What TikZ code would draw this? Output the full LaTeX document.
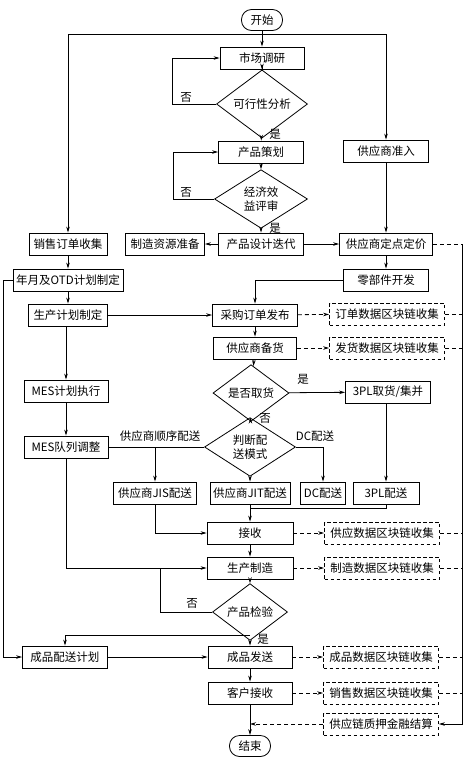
\documentclass[tikz,border=0pt]{standalone}
\usepackage{fontspec}
\setmainfont{Noto Sans CJK SC}
\usepackage{tikz}
\usetikzlibrary{arrows.meta,shapes.geometric}

\begin{document}
\begin{tikzpicture}[x=1pt,y=-1pt,line width=0.8pt,
  font=\fontsize{11.5}{13.5}\selectfont,
  box/.style={draw,minimum height=22pt,minimum width=85pt,inner xsep=3pt,inner ysep=0pt},
  chain/.style={box,dash pattern=on 3.5pt off 2.5pt,minimum width=115pt},
  term/.style={draw,rounded corners=10pt,minimum height=21pt,minimum width=41pt,inner sep=0pt},
  ask/.style={draw,diamond,inner sep=0pt,align=center},
  arr/.style={-{Stealth[length=6pt,width=3.5pt]}},
  dline/.style={dash pattern=on 4pt off 3pt}]
  \useasboundingbox (0,0) rectangle (473,761);

  % top part
  \node[term] (start) at (262,20) {开始};
  \node[box,minimum width=84pt] (mr) at (262,58) {市场调研};
  \node[ask,minimum width=91pt,minimum height=45pt] (kx) at (262,104) {可行性分析};
  \node[box] (cpch) at (261,152) {产品策划};
  \node[ask,minimum width=93pt,minimum height=45pt] (jj) at (261,199) {经济效\\益评审};
  \node[box] (sjdd) at (261,244) {产品设计迭代};
  \node[box,minimum width=79pt] (zzzy) at (165,244) {制造资源准备};
  \node[box] (gyszr) at (386,151) {供应商准入};
  \node[box,minimum width=93pt] (gysdd) at (386,244) {供应商定点定价};
  \node[box] (ljkf) at (386,280) {零部件开发};

  % left column
  \node[box,minimum width=78pt] (xsdd) at (68,244) {销售订单收集};
  \node[box,minimum width=110pt] (nyotd) at (68,280) {年月及OTD计划制定};
  \node[box,minimum width=79pt] (scjh) at (68,315) {生产计划制定};
  \node[box,minimum width=84pt] (mesjh) at (66,391) {MES计划执行};
  \node[box,minimum width=84pt] (mesdz) at (66,447) {MES队列调整};
  \node[box] (cppsjh) at (65,657) {成品配送计划};

  % purchasing and delivery
  \node[box] (cgdd) at (255,315) {采购订单发布};
  \node[box,minimum width=83pt] (gysbh) at (255,348) {供应商备货};
  \node[chain] (ddbc) at (387,314) {订单数据区块链收集};
  \node[chain] (fhbc) at (387,348) {发货数据区块链收集};
  \node[ask,minimum width=76pt,minimum height=40pt] (sfqh) at (251,393) {是否取货};
  \node[box] (qh3pl) at (388,392) {3PL取货/集并};
  \node[ask,minimum width=91pt,minimum height=46pt] (pdms) at (250,447) {判断配\\送模式};
  \node[box,minimum width=83pt] (jis) at (155,493) {供应商JIS配送};
  \node[box,minimum width=79pt] (jit) at (250,493) {供应商JIT配送};
  \node[box,minimum width=43pt] (dc) at (323,493) {DC配送};
  \node[box,minimum width=66pt] (ps3pl) at (386,493) {3PL配送};

  % production and shipping
  \node[box,minimum width=86pt] (js) at (250,533) {接收};
  \node[box,minimum width=86pt] (sczz) at (250,568) {生产制造};
  \node[chain] (gybc) at (382,533) {供应数据区块链收集};
  \node[chain] (zzbc) at (382,568) {制造数据区块链收集};
  \node[ask,minimum width=75pt,minimum height=38pt] (cpjy) at (250,612) {产品检验};
  \node[box,minimum width=84pt] (cpfs) at (250,657) {成品发送};
  \node[box,minimum width=84pt] (khjs) at (250,693) {客户接收};
  \node[chain] (cpbc) at (381,657) {成品数据区块链收集};
  \node[chain] (xsbc) at (381,693) {销售数据区块链收集};
  \node[chain] (jrjs) at (381,724) {供应链质押金融结算};
  \node[term] (end) at (250,746) {结束};

  \coordinate (tl) at (68,34);
  \coordinate (tr) at (386,34);
  \coordinate (rs) at (462,244);
  \coordinate (j3) at (250,508);
  \coordinate (nj) at (160,568);
  \coordinate (yj) at (250,635);

  \draw[arr] (start) -- (mr);
  \draw (tl) -- (tr);
  \draw[arr] (tl) -- (xsdd);
  \draw[arr] (tr) -- (gyszr);
  \draw[arr] (mr) -- (kx);
  \draw[arr] (kx.west) -- ++(-44,0) |- (mr.west);
  \draw[arr] (kx) -- (cpch);
  \draw[arr] (cpch) -- (jj);
  \draw[arr] (jj.west) -- ++(-41,0) |- (cpch.west);
  \draw[arr] (jj) -- (sjdd);
  \draw[arr] (sjdd) -- (zzzy);
  \draw[arr] (sjdd) -- (gysdd);
  \draw[arr] (gyszr) -- (gysdd);
  \draw[arr] (gysdd) -- (ljkf);
  \draw[arr] (ljkf.west) -| (cgdd.north);
  \node at (186,97) {否};
  \node at (275,134) {是};
  \node at (186,192) {否};
  \node at (275,228) {是};

  \draw[arr] (xsdd) -- (nyotd);
  \draw[arr] (nyotd) -- (scjh);
  \draw[arr] (scjh) -- (cgdd);
  \draw[arr] (scjh.south -| mesjh.north) -- (mesjh);
  \draw[arr] (mesjh) -- (mesdz);
  \draw[arr] (cgdd) -- (gysbh);
  \draw[arr] (gysbh) -- (sfqh);
  \draw[arr,dline] (cgdd) -- (ddbc);
  \draw[arr,dline] (gysbh) -- (fhbc);
  \draw[arr] (sfqh) -- (qh3pl);
  \draw[arr] (sfqh) -- (pdms);
  \draw[arr] (qh3pl.south -| ps3pl.north) -- (ps3pl);
  \node at (303,379) {是};
  \node at (265,418) {否};

  \draw (mesdz) -- (pdms);
  \draw[arr] (jis.north |- pdms.west) -- (jis);
  \draw[arr] (pdms.east) -| (dc.north);
  \draw[arr] (pdms) -- (jit);
  \node at (160,436) {供应商顺序配送};
  \node at (315,436) {DC配送};
  \draw[arr] (jis.south) |- (js.west);
  \draw[arr] (jit) -- (js);
  \draw (ps3pl.south) |- (j3);

  \draw[arr,dline] (js) -- (gybc);
  \draw[arr] (js) -- (sczz);
  \draw[arr,dline] (sczz) -- (zzbc);
  \draw[arr] (mesdz.south) |- (sczz.west);
  \draw[arr] (sczz) -- (cpjy);
  \draw (cpjy.west) -| (nj);
  \node at (192,603) {否};
  \draw[arr] (cpjy) -- (cpfs);
  \draw[arr] (yj) -| (cppsjh.north);
  \node at (263,639) {是};
  \draw[arr] (nyotd.west) -- ++(-9,0) |- (cppsjh.west);
  \draw[arr] (cppsjh) -- (cpfs);
  \draw[arr,dline] (cpfs) -- (cpbc);
  \draw[arr] (cpfs) -- (khjs);
  \draw[arr,dline] (khjs) -- (xsbc);
  \draw[arr] (khjs) -- (end);
  \draw[arr,dline] (jrjs.west) -- (khjs.south |- jrjs.west);

  % blockchain spine
  \draw[dline] (gysdd) -- (rs);
  \draw[arr] (rs) |- (jrjs.east);
  \foreach \b in {ddbc,fhbc,gybc,zzbc,cpbc,xsbc}
    \draw[dline] (\b.east) -- (\b.east -| rs);
\end{tikzpicture}
\end{document}
